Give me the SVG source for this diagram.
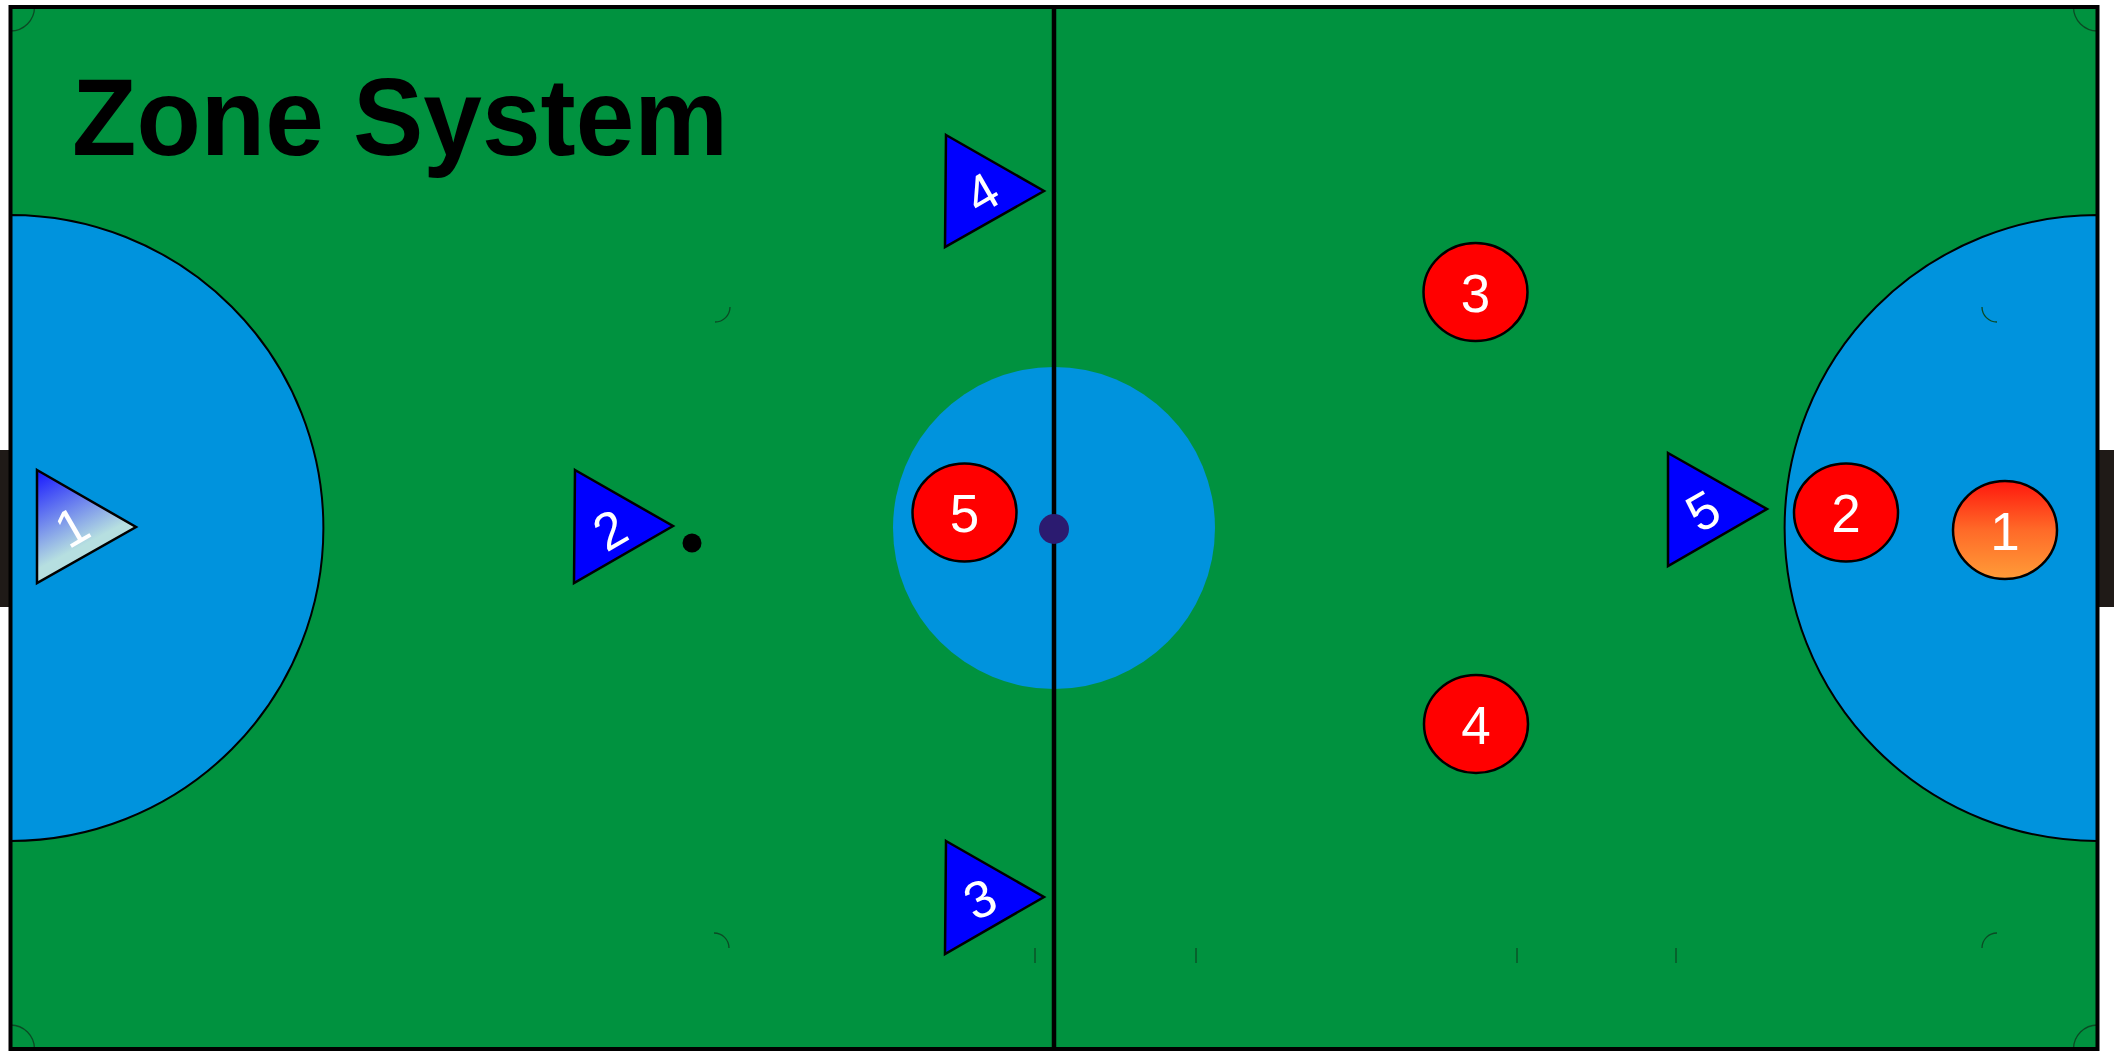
<svg xmlns="http://www.w3.org/2000/svg" width="2114" height="1051" viewBox="0 0 2114 1051">
<defs>
<style>
.tri{fill:#0000ff;stroke:#000;stroke-width:2.5;stroke-linejoin:miter}
.ell{fill:#ff0000;stroke:#000;stroke-width:2.5}
.tnum{font-family:"Liberation Sans",Arial,sans-serif;font-size:52px;fill:#fff;text-anchor:middle}
.enum{font-family:"Liberation Sans",Arial,sans-serif;font-size:53px;fill:#fff;text-anchor:middle}
.mark{fill:none;stroke:#0b4a24;stroke-width:1.3}
</style>
<clipPath id="fieldClip"><rect x="10.5" y="7" width="2087" height="2042"/></clipPath>
<linearGradient id="gTri1" gradientUnits="userSpaceOnUse" x1="37" y1="470" x2="78" y2="548">
<stop offset="0" stop-color="#1515ff"/>
<stop offset="1" stop-color="#b6dfe0"/>
</linearGradient>
<linearGradient id="gEll1" x1="0" y1="0" x2="0" y2="1">
<stop offset="0" stop-color="#ff170d"/>
<stop offset="0.5" stop-color="#ff6a28"/>
<stop offset="1" stop-color="#ff9c38"/>
</linearGradient>
</defs>

<g id="field">
<rect x="10.5" y="7" width="2087" height="1042" fill="#00923f"/>
<g clip-path="url(#fieldClip)">
<path d="M10.5 215 A313 313 0 0 1 10.5 841 Z" fill="#0093dd" stroke="#000" stroke-width="2"/>
<path d="M2097.5 215 A313 313 0 0 0 2097.5 841 Z" fill="#0093dd" stroke="#000" stroke-width="2"/>
</g>
<circle cx="1054" cy="528" r="161" fill="#0093dd"/>
<line x1="1054" y1="7" x2="1054" y2="1049" stroke="#000" stroke-width="4.5"/>
<circle cx="1054" cy="529" r="15" fill="#2b1b70"/>
<path class="mark" d="M34.5 7 A24 24 0 0 1 10.5 31"/>
<path class="mark" d="M2073.5 7 A24 24 0 0 0 2097.5 31"/>
<path class="mark" d="M10.5 1025 A24 24 0 0 1 34.5 1049"/>
<path class="mark" d="M2073.5 1049 A24 24 0 0 1 2097.5 1025"/>
<path class="mark" d="M730 307 A15 15 0 0 1 715 322"/>
<path class="mark" d="M1982 307 A15 15 0 0 0 1997 322"/>
<path class="mark" d="M714 933 A15 15 0 0 1 729 948"/>
<path class="mark" d="M1982 948 A15 15 0 0 1 1997 933"/>
<line class="mark" x1="1035" y1="948" x2="1035" y2="963"/>
<line class="mark" x1="1196" y1="948" x2="1196" y2="963"/>
<line class="mark" x1="1517" y1="948" x2="1517" y2="963"/>
<line class="mark" x1="1676" y1="948" x2="1676" y2="963"/>
<rect x="0" y="450" width="9" height="157" fill="#1f1a17"/>
<rect x="2099" y="450" width="15" height="157" fill="#1f1a17"/>
<rect x="10.5" y="7" width="2087" height="1042" fill="none" stroke="#000" stroke-width="4"/>
</g>

<g id="title">
<text x="72" y="155" font-family="'Liberation Sans',Arial,sans-serif" font-weight="bold" font-size="110" textLength="656" lengthAdjust="spacingAndGlyphs" fill="#000">Zone System</text>
</g>

<g id="blue-1">
<polygon class="tri" points="37,470 136,527 37,583" style="fill:url(#gTri1)"/>
<text class="tnum" transform="translate(72,527) rotate(-30)" y="18">1</text>
</g>
<g id="blue-2">
<polygon class="tri" points="575,470 673,526 574,583"/>
<text class="tnum" transform="translate(610,530) rotate(-30)" y="18">2</text>
</g>
<g id="ball">
<circle cx="692" cy="543" r="9.5" fill="#000"/>
</g>
<g id="blue-4">
<polygon class="tri" points="946,135 1044,191 945,247"/>
<text class="tnum" transform="translate(982,193) rotate(-30)" y="18">4</text>
</g>
<g id="blue-3">
<polygon class="tri" points="946,841 1044,897 945,954"/>
<text class="tnum" transform="translate(980,899) rotate(-25)" y="18">3</text>
</g>
<g id="blue-5">
<polygon class="tri" points="1668,453 1767,509 1668,566"/>
<text class="tnum" transform="translate(1703,511) rotate(-30)" y="18">5</text>
</g>

<g id="red-5">
<ellipse class="ell" cx="964.5" cy="512.5" rx="52" ry="49"/>
<text class="enum" x="964.5" y="532">5</text>
</g>
<g id="red-3">
<ellipse class="ell" cx="1475.5" cy="292" rx="52" ry="49"/>
<text class="enum" x="1475.5" y="311.5">3</text>
</g>
<g id="red-4">
<ellipse class="ell" cx="1476" cy="724" rx="52" ry="49"/>
<text class="enum" x="1476" y="743.5">4</text>
</g>
<g id="red-2">
<ellipse class="ell" cx="1846" cy="512.5" rx="52" ry="49"/>
<text class="enum" x="1846" y="532">2</text>
</g>
<g id="red-1">
<ellipse class="ell" cx="2005" cy="530" rx="52" ry="49" style="fill:url(#gEll1)"/>
<text class="enum" x="2005" y="549.5">1</text>
</g>
</svg>
